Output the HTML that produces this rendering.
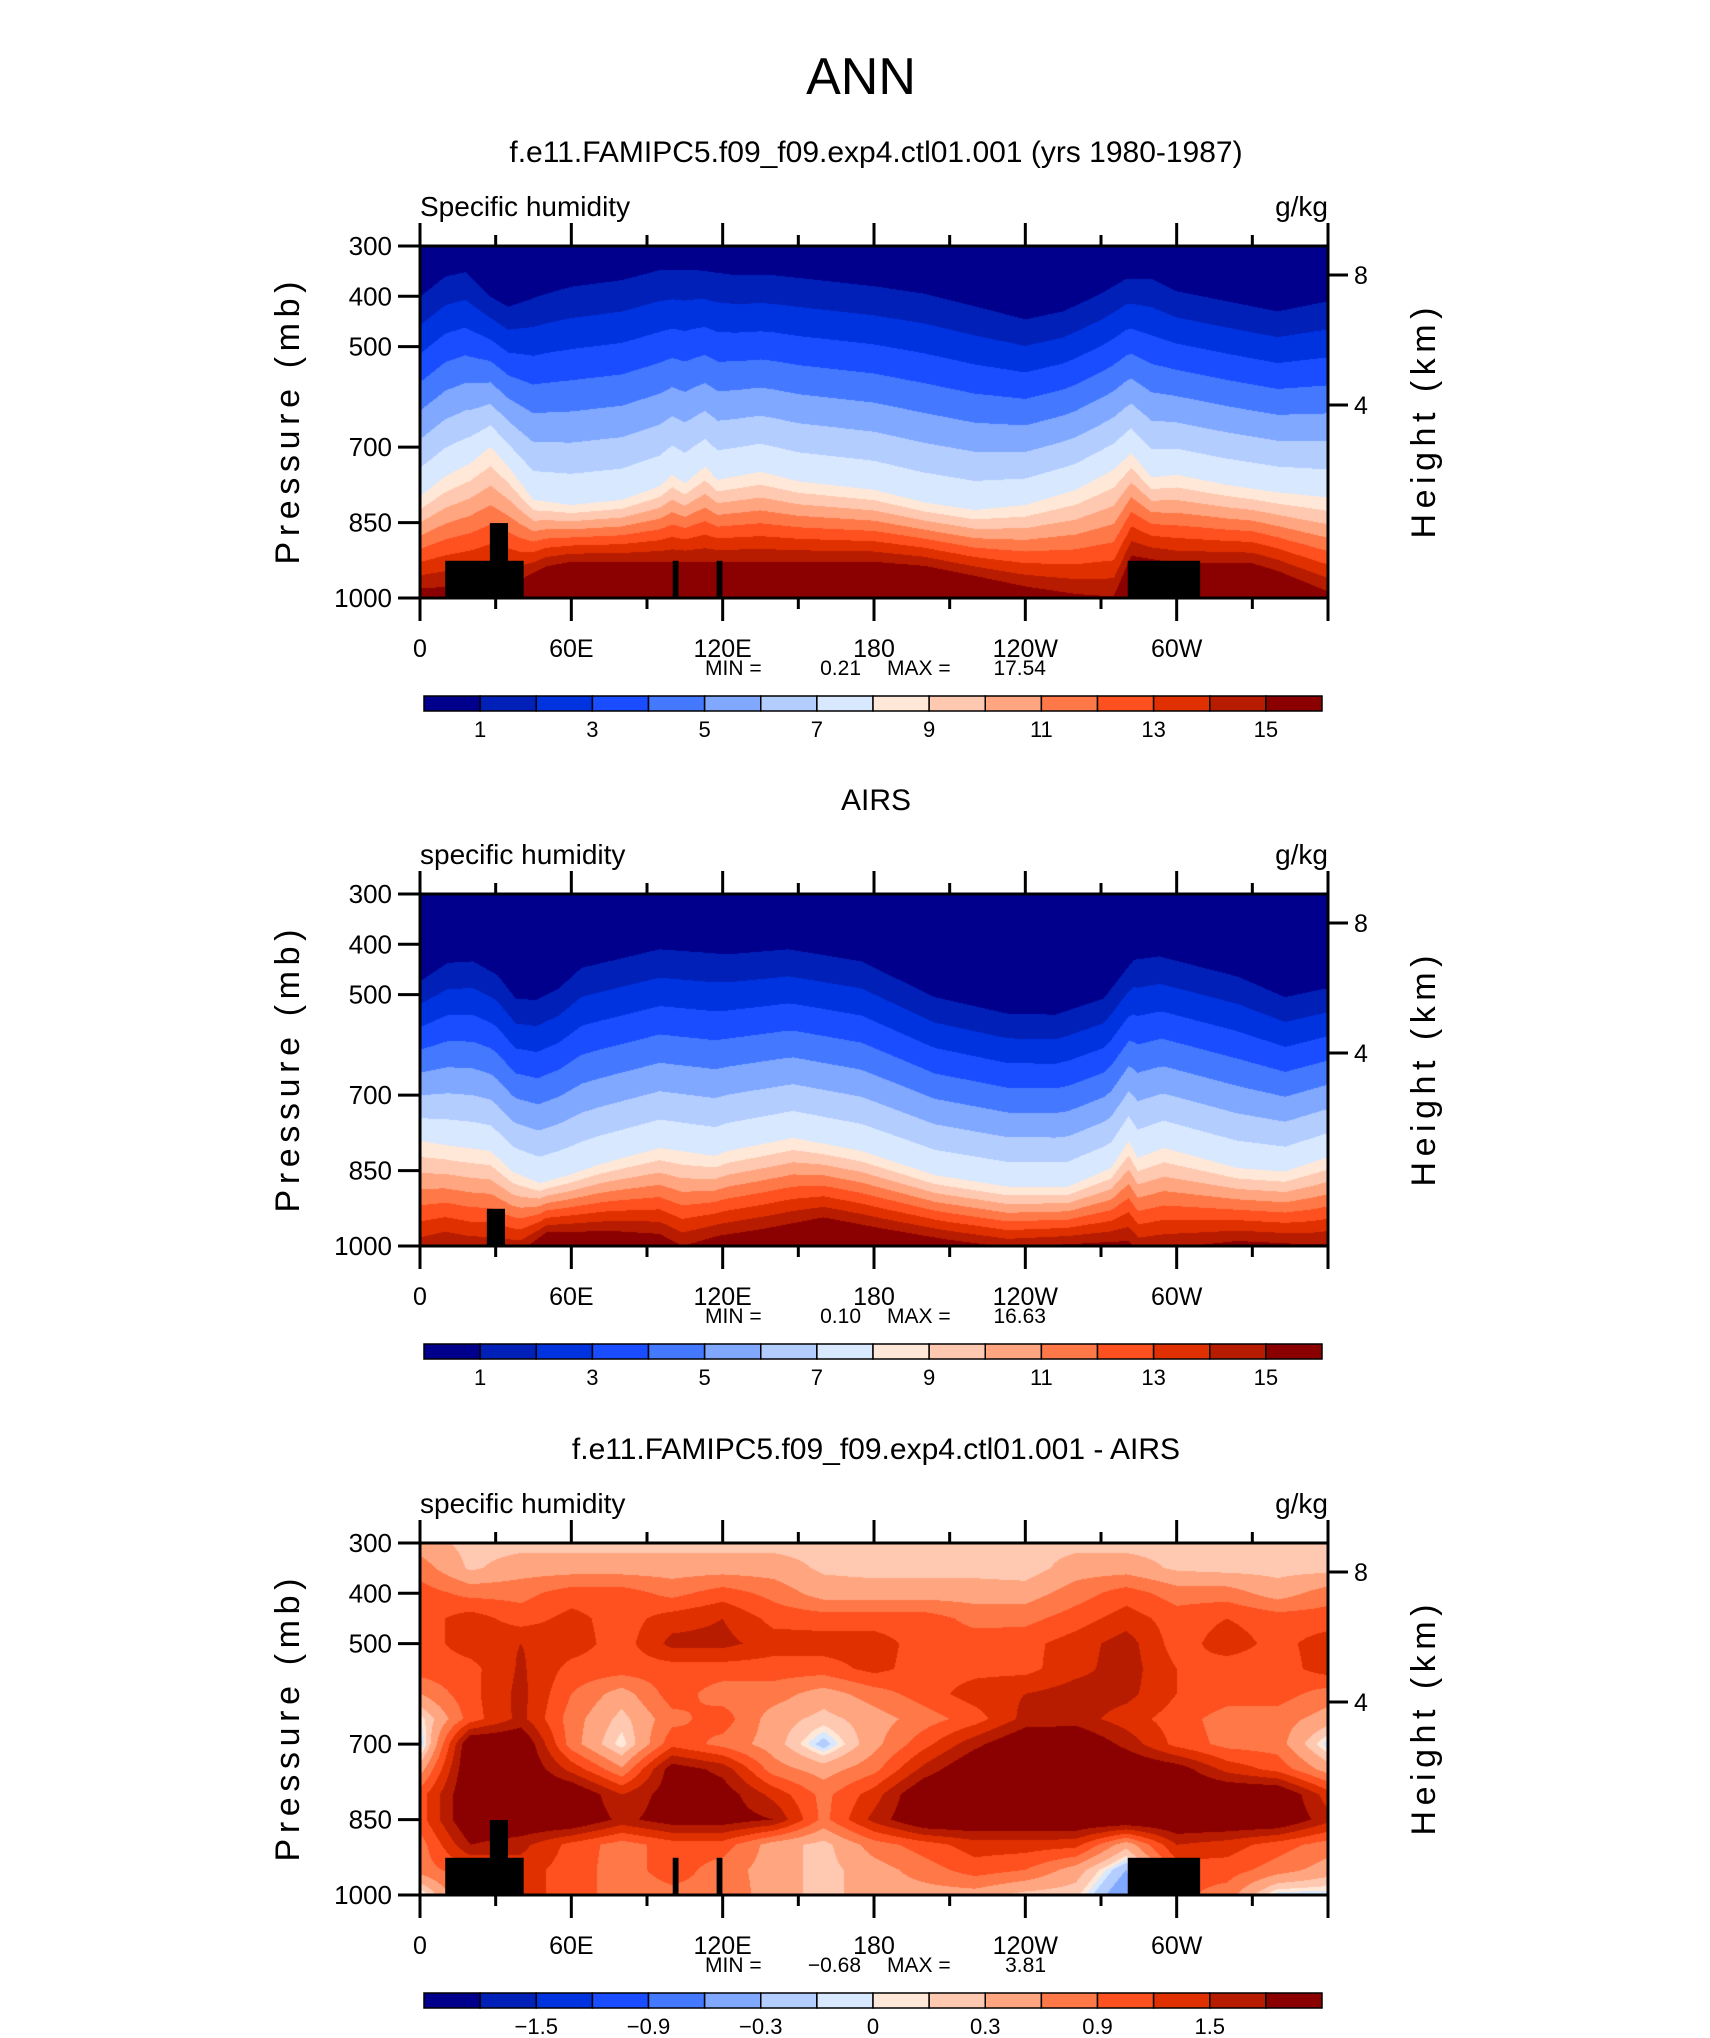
<!DOCTYPE html>
<html><head><meta charset="utf-8">
<style>
html,body{margin:0;padding:0;background:#fff;}
#wrap{position:relative;width:1710px;height:2038px;overflow:hidden;}
canvas{position:absolute;}
svg{position:absolute;left:0;top:0;}
text{font-family:"Liberation Sans",sans-serif;fill:#000;}
</style></head>
<body>
<div id="wrap">
<canvas id="c0" width="908" height="352" style="left:420px;top:246px"></canvas>
<canvas id="c1" width="908" height="352" style="left:420px;top:894px"></canvas>
<canvas id="c2" width="908" height="352" style="left:420px;top:1543px"></canvas>
<svg id="ov" width="1710" height="2038">
<text x="861" y="94" font-size="52" text-anchor="middle" style="font-weight:normal">ANN</text>
</svg>
</div>
<script>
// ---------- data ----------
const lonTicks = [0, 60, 120, 180, 240, 300];
const lonTickLabels = ["0", "60E", "120E", "180", "120W", "60W"];
const presTicks = [300, 400, 500, 700, 850, 1000];
const heightTicks = [8, 4];
const qLevels = [1,2,3,4,5,6,7,8,9,10,11,12,13,14,15];
const qLabels = ["1","3","5","7","9","11","13","15"];
const dLevels = [-1.8,-1.5,-1.2,-0.9,-0.6,-0.3,-0.1,0,0.1,0.3,0.6,0.9,1.2,1.5,1.8];
const dLabels = ["\u22121.5","\u22120.9","\u22120.3","0","0.3","0.9","1.5"];
const palette = ["#00008c","#0020b8","#0033e0","#1a4dff","#4478ff","#80a8ff","#b3cdff","#d8e8ff",
                 "#ffe8d8","#ffc8b0","#ffa680","#ff7848","#ff5020","#e03000","#b81c00","#8b0000"];

// Panel 1 (model): pressure of q=1, q=8, q=15 contours
const m1Lon = [0,10,18,28,35,50,60,80,95,110,125,140,180,200,220,240,255,270,280,290,300,320,340,360];
const m1P   = [401,361,352,401,421,395,381,368,348,348,358,358,380,395,420,446,430,395,365,365,390,410,430,410];
const m8Lon = [0,10,20,28,35,45,60,80,95,100,105,113,118,135,150,180,200,220,240,260,275,282,290,300,320,340,360];
const m8P   = [798,758,732,699,739,805,815,805,778,755,772,739,765,749,768,785,810,825,815,785,745,712,760,755,775,790,800];
const m15Lon = [0,20,40,50,60,180,200,220,240,260,275,282,300,330,340,360];
const m15P   = [981,975,963,937,928,928,936,956,977,992,997,916,931,931,946,987];

// Panel 2 (AIRS)
const a1Lon = [0,11,21,30.6,38,46,55,64,95,122,146,175,204,233,252,271,283,293,324,343,359];
const a1P   = [474,437,434,461,508,511,488,447,410,420,410,434,505,538,540,508,431,424,464,505,488];
const a8Lon = [0,11,28,36.6,47.4,59,71,95,117,122,148,175,204,233,257,274,281,284.5,295,324,343,359];
const a8P   = [791,800,811,852,875,859,838,805,821,811,785,811,859,882,882,845,791,825,805,845,852,825];
const a15Lon = [0,10,20,40,50,76,95,104,118,136,160,184,209,233,281,285,305,324,353,360];
const a15P   = [1015,1000,1010,1010,973,970,976,1000,980,966,943,966,987,1003,990,1010,1000,990,997,995];

// Panel 3 (difference) grid: lon 0..360 step 20
const dLon = [0,20,40,60,80,100,120,140,160,180,200,220,240,260,280,300,320,340,360];
const dPres = [300,350,400,450,500,550,600,650,700,750,800,850,900,950,1000];
const d300 = [0.45,0.2,0.2,0.2,0.2,0.2,0.2,0.2,0.2,0.2,0.2,0.2,0.2,0.2,0.2,0.2,0.2,0.1,0.2];
const d350 = [0.75,0.25,0.45,0.45,0.45,0.45,0.45,0.45,0.25,0.2,0.2,0.2,0.15,0.45,0.45,0.25,0.2,0.2,0.2];
const d400 = [1.05,0.8,0.8,1.05,1.05,0.8,1.05,0.8,0.45,0.45,0.45,0.45,0.45,0.75,1.05,0.75,0.75,0.45,0.75];
const d450 = [1.05,1.35,1.05,1.3,1.05,1.35,1.5,1.1,1.05,1.05,1.05,0.8,0.8,1.05,1.35,1.05,1.2,1.05,1.05];
const d500 = [1.05,1.35,1.5,1.35,1.05,1.6,1.6,1.35,1.35,1.35,1.05,1.05,1.1,1.35,1.65,1.05,1.35,1.1,1.35];
const d550 = [1.05,1.1,1.55,1.1,1.05,1.05,1.05,1.05,1.05,1.3,1.05,1.1,1.1,1.4,1.65,1.2,1.05,1.05,1.35];
const d600 = [0.6,1.1,1.6,0.9,0.45,1.05,0.75,0.75,0.45,0.75,1.05,1.35,1.5,1.65,1.6,1.2,1.05,1.05,0.75];
const d650 = [0.0,1.05,1.6,0.75,0.2,0.8,1.05,0.45,0.2,0.45,0.75,1.05,1.6,1.65,1.35,1.05,0.75,0.75,0.45];
const d700 = [-0.2,2.2,2.2,0.75,0.0,1.1,0.8,0.45,-0.2,0.5,1.1,1.7,2.2,2.2,1.7,1.1,0.8,0.75,-0.1];
const d750 = [0.45,2.2,2.2,1.4,0.65,2.0,1.7,0.75,0.45,0.8,1.6,2.2,2.2,2.2,2.2,2.0,1.4,1.1,0.45];
const d800 = [1.05,2.2,2.2,2.2,1.5,2.0,2.0,1.4,0.8,1.35,2.2,2.2,2.2,2.2,2.2,2.2,2.2,2.2,1.35];
const d850 = [1.05,2.2,2.2,2.2,1.7,2.0,2.0,1.8,0.8,1.6,2.2,2.2,2.2,2.2,2.2,2.2,2.2,2.2,1.6];
const d900 = [0.75,1.8,1.6,1.1,0.75,1.05,1.05,0.45,0.2,0.75,1.05,1.35,1.35,1.3,0.4,1.5,1.35,1.05,0.75];
const d950 = [0.75,1.1,1.35,1.05,0.75,1.05,0.75,0.45,0.2,0.45,0.75,1.05,0.9,0.45,-0.3,1.0,1.05,0.75,0.45];
const d1000 = [-0.1,1.1,1.35,1.05,0.75,0.8,0.8,0.45,0.2,0.45,0.45,0.45,0.2,0.15,-0.6,1.0,0.75,-0.1,-0.1];

// topography masks (lon range, top pressure)
const maskLonA = [10,27.7,100.2,117.6,280.6];
const maskLonB = [41.1,34.9,102.5,119.9,309.3];
const maskTopP = [926,851,926,926,926];
const mask2LonA = [26.5];
const mask2LonB = [33.7];
const mask2TopP = [926];

// ---------- layout ----------
const X0 = 420, PW = 908, PH = 352;
const tops = [246, 894, 1543];
const xOf = lon => X0 + lon / 360 * PW;
const yOf = (T, p) => T + (p - 300) * PH / 700;
const SVGNS = "http://www.w3.org/2000/svg";
const ov = document.getElementById('ov');

function interp(xs, ys, x) {
  if (x <= xs[0]) return ys[0];
  for (let i = 1; i < xs.length; i++) {
    if (x <= xs[i]) { const t = (x - xs[i-1]) / (xs[i] - xs[i-1]); return ys[i-1] + t * (ys[i] - ys[i-1]); }
  }
  return ys[ys.length - 1];
}
function bandOf(levels, v) { let k = 0; while (k < levels.length && v >= levels[k]) k++; return k; }
function hexRGB(h) { return [parseInt(h.substr(1,2),16), parseInt(h.substr(3,2),16), parseInt(h.substr(5,2),16)]; }
const palRGB = palette.map(hexRGB);

function drawProfile(id, l1, p1, l8, p8, l15, p15) {
  const cv = document.getElementById(id), ctx = cv.getContext('2d');
  const img = ctx.createImageData(PW, PH);
  for (let i = 0; i < PW; i++) {
    const lon = (i + 0.5) / PW * 360;
    const a = interp(l1, p1, lon), b = interp(l8, p8, lon), c = interp(l15, p15, lon);
    for (let j = 0; j < PH; j++) {
      const p = 300 + (j + 0.5) / PH * 700;
      let q;
      if (p < a) q = 0.5;
      else if (p < b) q = 1 + 7 * (p - a) / (b - a);
      else if (p < c) q = 8 + 7 * (p - b) / (c - b);
      else q = 15.5;
      const col = palRGB[bandOf(qLevels, q)];
      const o = (j * PW + i) * 4;
      img.data[o] = col[0]; img.data[o+1] = col[1]; img.data[o+2] = col[2]; img.data[o+3] = 255;
    }
  }
  ctx.putImageData(img, 0, 0);
}
function drawDiff(id) {
  const rows = [d300,d350,d400,d450,d500,d550,d600,d650,d700,d750,d800,d850,d900,d950,d1000];
  const cv = document.getElementById(id), ctx = cv.getContext('2d');
  const img = ctx.createImageData(PW, PH);
  for (let j = 0; j < PH; j++) {
    const p = 300 + (j + 0.5) / PH * 700;
    let r = 0; while (r < dPres.length - 2 && p > dPres[r+1]) r++;
    const tp = Math.min(1, Math.max(0, (p - dPres[r]) / (dPres[r+1] - dPres[r])));
    for (let i = 0; i < PW; i++) {
      const lon = (i + 0.5) / PW * 360;
      const v = interp(dLon, rows[r], lon) * (1 - tp) + interp(dLon, rows[r+1], lon) * tp;
      const col = palRGB[bandOf(dLevels, v)];
      const o = (j * PW + i) * 4;
      img.data[o] = col[0]; img.data[o+1] = col[1]; img.data[o+2] = col[2]; img.data[o+3] = 255;
    }
  }
  ctx.putImageData(img, 0, 0);
}
drawProfile('c0', m1Lon, m1P, m8Lon, m8P, m15Lon, m15P);
drawProfile('c1', a1Lon, a1P, a8Lon, a8P, a15Lon, a15P);
drawDiff('c2');

function el(tag, attrs, txt) {
  const e = document.createElementNS(SVGNS, tag);
  for (const k in attrs) e.setAttribute(k, attrs[k]);
  if (txt !== undefined) e.textContent = txt;
  ov.appendChild(e);
  return e;
}

const titles = ["f.e11.FAMIPC5.f09_f09.exp4.ctl01.001 (yrs 1980-1987)", "AIRS", "f.e11.FAMIPC5.f09_f09.exp4.ctl01.001 - AIRS"];
const varNames = ["Specific humidity", "specific humidity", "specific humidity"];
const minVals = ["0.21", "0.10", "\u22120.68"];
const maxVals = ["17.54", "16.63", "3.81"];

tops.forEach((T, k) => {
  const mA = k === 1 ? mask2LonA : maskLonA, mB = k === 1 ? mask2LonB : maskLonB, mT = k === 1 ? mask2TopP : maskTopP;
  for (let m = 0; m < mA.length; m++) {
    const r = el('rect', {x: xOf(mA[m]), y: yOf(T, mT[m]), width: xOf(mB[m]) - xOf(mA[m]), height: yOf(T, 1000) - yOf(T, mT[m]), fill: '#000'});
    
    
  }
  const fr = el('rect', {x: X0, y: T, width: PW, height: PH, fill: 'none', stroke: '#000', 'stroke-width': 3});
  
  
  for (let lon = 0; lon <= 360; lon += 30) {
    const major = lon % 60 === 0, len = major ? 23 : 11, x = xOf(lon);
    const t1 = el('line', {x1: x, x2: x, y1: T, y2: T - len, stroke: '#000', 'stroke-width': 3});
    
    
    const t2 = el('line', {x1: x, x2: x, y1: T + PH, y2: T + PH + len, stroke: '#000', 'stroke-width': 3});
    
    
  }
  lonTicks.forEach((lon, i) => {
    const t = el('text', {x: xOf(lon), y: T + PH + 59, 'font-size': 25, 'text-anchor': 'middle'}, lonTickLabels[i]);
    
    
  });
  presTicks.forEach(p => {
    const y = yOf(T, p);
    const t = el('line', {x1: X0, x2: X0 - 22, y1: y, y2: y, stroke: '#000', 'stroke-width': 3});
    
    
    const l = el('text', {x: X0 - 28, y: y + 9, 'font-size': 26, 'text-anchor': 'end'}, String(p));
    
    
  });
  heightTicks.forEach(h => {
    const y = T + (h === 8 ? 29 : 159);
    const t = el('line', {x1: X0 + PW, x2: X0 + PW + 20, y1: y, y2: y, stroke: '#000', 'stroke-width': 3});
    
    
    const l = el('text', {x: X0 + PW + 26, y: y + 9, 'font-size': 25}, String(h));
    
    
  });
  const cy = T + 177;
  const pl = el('text', {x: 0, y: 0, 'font-size': 34, 'text-anchor': 'middle', textLength: 283, lengthAdjust: 'spacing', transform: `translate(299 ${cy}) rotate(-90)`}, 'Pressure (mb)');
  
  
  const hl = el('text', {x: 0, y: 0, 'font-size': 34, 'text-anchor': 'middle', textLength: 231, lengthAdjust: 'spacing', transform: `translate(1435 ${cy}) rotate(-90)`}, 'Height (km)');
  
  
  const tt = el('text', {x: 876, y: T - 84, 'font-size': 30, 'text-anchor': 'middle'}, titles[k]);
  
  
  const vn = el('text', {x: X0, y: T - 30, 'font-size': 28}, varNames[k]);
  
  
  const un = el('text', {x: X0 + PW, y: T - 30, 'font-size': 28, 'text-anchor': 'end'}, 'g/kg');
  
  
  const mn1 = el('text', {x: 705, y: T + 429, 'font-size': 21}, 'MIN =');
  
  
  const mn2 = el('text', {x: 861, y: T + 429, 'font-size': 21, 'text-anchor': 'end'}, minVals[k]);
  
  
  const mx1 = el('text', {x: 887, y: T + 429, 'font-size': 21}, 'MAX =');
  
  
  const mx2 = el('text', {x: 1046, y: T + 429, 'font-size': 21, 'text-anchor': 'end'}, maxVals[k]);
  
  
  const cbX = 424, cbW = 898, seg = cbW / 16, cbY = T + 450, cbH = 15;
  palette.forEach((c, i) => {
    const r = el('rect', {x: cbX + i * seg, y: cbY, width: seg, height: cbH, fill: c, stroke: '#000', 'stroke-width': 1.5});
    
    
  });
  const labs = k === 2 ? dLabels : qLabels;
  labs.forEach((s, i) => {
    const b = k === 2 ? 2 + 2 * i : 1 + 2 * i;
    const t = el('text', {x: cbX + b * seg, y: cbY + 41, 'font-size': 22, 'text-anchor': 'middle'}, s);
    
    
  });
});
</script>
</body></html>
